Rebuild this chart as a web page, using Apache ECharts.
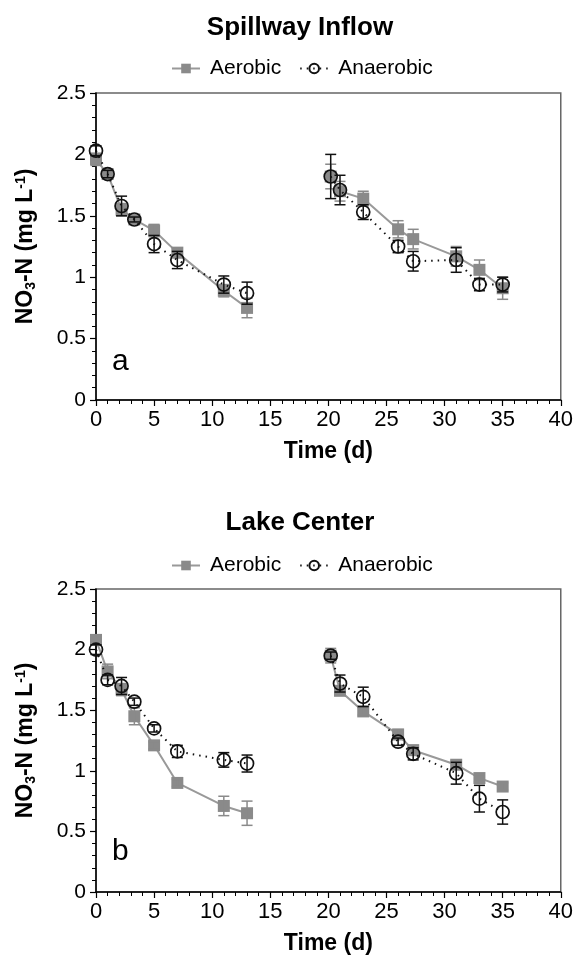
<!DOCTYPE html>
<html><head><meta charset="utf-8">
<script src="https://cdn.jsdelivr.net/npm/echarts@6/dist/echarts.min.js"></script>
<style>html,body{margin:0;padding:0;background:#fff}#c{width:576px;height:957px}</style>
</head><body><div id="c"></div>
<script>
// ---- data ----
var titles = ['Spillway Inflow', 'Lake Center'];
var panelLetters = ['a', 'b'];
var timesA = [0, 1, 2.2, 3.3, 5, 7, 11, 13];
var timesB = [20.2, 21, 23, 26, 27.3, 31, 33, 35];
var xTicks = [0, 5, 10, 15, 20, 25, 30, 35, 40];
var yTicks = [0, 0.5, 1, 1.5, 2, 2.5];

// panel a (Spillway Inflow)
var aAerobic1 = [1.96, 1.84, 1.55, 1.47, 1.38, 1.20, 0.89, 0.75];
var aAerobic2 = [1.82, 1.70, 1.64, 1.39, 1.31, 1.17, 1.06, 0.91];
var aAerobicErr1 = [0.05, 0.03, 0.05, 0.03, 0.05, 0.04, 0.05, 0.08];
var aAerobicErr2 = [0.10, 0.08, 0.06, 0.07, 0.08, 0.08, 0.08, 0.09];
var aAnaerobic1 = [2.03, 1.84, 1.58, 1.47, 1.27, 1.14, 0.94, 0.87];
var aAnaerobic2 = [1.82, 1.71, 1.53, 1.25, 1.13, 1.14, 0.94, 0.94];
var aAnaerobicErr1 = [0.04, 0.03, 0.08, 0.02, 0.07, 0.07, 0.07, 0.09];
var aAnaerobicErr2 = [0.18, 0.12, 0.06, 0.05, 0.08, 0.10, 0.05, 0.06];

// panel b (Lake Center)
var bAerobic1 = [2.08, 1.82, 1.67, 1.45, 1.21, 0.90, 0.71, 0.65];
var bAerobic2 = [1.95, 1.66, 1.49, 1.30, 1.17, 1.05, 0.94, 0.87];
var bAerobicErr1 = [0.04, 0.06, 0.05, 0.07, 0.03, 0.03, 0.08, 0.10];
var bAerobicErr2 = [0.06, 0.03, 0.03, 0.04, 0.04, 0.03, 0.03, 0.03];
var bAnaerobic1 = [2.00, 1.75, 1.70, 1.57, 1.35, 1.16, 1.09, 1.06];
var bAnaerobic2 = [1.95, 1.72, 1.61, 1.24, 1.14, 0.98, 0.77, 0.66];
var bAnaerobicErr1 = [0.04, 0.04, 0.07, 0.03, 0.03, 0.05, 0.06, 0.07];
var bAnaerobicErr2 = [0.03, 0.07, 0.08, 0.03, 0.05, 0.09, 0.11, 0.10];

// ---- build ----
var FONT = 'Liberation Sans, Arial, sans-serif';
var GRAY = '#8a8a8a';
var LINEGRAY = '#999999';

function pts(t, v) { return t.map(function (x, i) { return [x, v[i]]; }); }
function errPts(t, v, e) { return t.map(function (x, i) { return [x, v[i] - e[i], v[i] + e[i]]; }); }

function errSeries(idx, data, color) {
  return {
    type: 'custom', xAxisIndex: idx, yAxisIndex: idx, silent: true, z: 3,
    renderItem: function (params, api) {
      var x = api.value(0);
      var lo = api.coord([x, api.value(1)]);
      var hi = api.coord([x, api.value(2)]);
      var w = 5.5;
      var st = { stroke: color, lineWidth: 1.5 };
      return { type: 'group', children: [
        { type: 'line', shape: { x1: lo[0], y1: lo[1], x2: hi[0], y2: hi[1] }, style: st },
        { type: 'line', shape: { x1: lo[0] - w, y1: lo[1], x2: lo[0] + w, y2: lo[1] }, style: st },
        { type: 'line', shape: { x1: hi[0] - w, y1: hi[1], x2: hi[0] + w, y2: hi[1] }, style: st }
      ]};
    },
    data: data
  };
}
function aerSeries(idx, data) {
  return {
    name: 'Aerobic', type: 'line', xAxisIndex: idx, yAxisIndex: idx, z: 2,
    symbol: 'rect', symbolSize: 12, showSymbol: true,
    lineStyle: { color: LINEGRAY, width: 2 },
    itemStyle: { color: GRAY, borderWidth: 0 },
    data: data, animation: false
  };
}
function anaSeries(idx, data) {
  return {
    name: 'Anaerobic', type: 'line', xAxisIndex: idx, yAxisIndex: idx, z: 5,
    symbol: 'circle', symbolSize: 13, showSymbol: true,
    lineStyle: { color: '#111', width: 2, type: [1.5, 5] },
    itemStyle: { color: 'rgba(255,255,255,0)', borderColor: '#111', borderWidth: 1.7 },
    data: data, animation: false
  };
}

var grids = [
  { left: 96, right: 13, top: 93, height: 307, show: true, borderColor: '#666', borderWidth: 1.5 },
  { left: 96, right: 13, top: 589, height: 303, show: true, borderColor: '#666', borderWidth: 1.5 }
];

function xAxis(idx) {
  return {
    type: 'value', gridIndex: idx, min: xTicks[0], max: xTicks[xTicks.length - 1], interval: 5,
    name: 'Time (d)', nameLocation: 'middle', nameGap: 40,
    nameTextStyle: { fontFamily: FONT, fontSize: 23, fontWeight: 'bold', color: '#000' },
    axisLine: { show: true, onZero: false, lineStyle: { color: '#000', width: 1.5 } },
    axisTick: { show: true, inside: false, length: 6, lineStyle: { color: '#000', width: 1.2 } },
    minorTick: { show: true, splitNumber: 5, length: 4, lineStyle: { color: '#000', width: 1 } },
    axisLabel: { fontFamily: FONT, fontSize: 22, color: '#000', margin: 9 },
    splitLine: { show: false }
  };
}
function yAxis(idx) {
  return {
    type: 'value', gridIndex: idx, min: yTicks[0], max: yTicks[yTicks.length - 1], interval: 0.5,
    name: '{b|NO}{s|3}{b|-N (mg L}{p|-1}{b|)}', nameLocation: 'middle', nameGap: 58,
    nameTextStyle: { fontFamily: FONT, fontSize: 23, fontWeight: 'bold', color: '#000',
      rich: {
        b: { fontFamily: FONT, fontSize: 23, fontWeight: 'bold', color: '#000' },
        s: { fontFamily: FONT, fontSize: 14, fontWeight: 'bold', color: '#000', verticalAlign: 'bottom', padding: [10, 0, 0, 0] },
        p: { fontFamily: FONT, fontSize: 14, fontWeight: 'bold', color: '#000', verticalAlign: 'top', padding: [0, 0, 10, 0] }
      } },
    axisLine: { show: true, onZero: false, lineStyle: { color: '#000', width: 1.5 } },
    axisTick: { show: true, inside: false, length: 6, lineStyle: { color: '#000', width: 1.2 } },
    minorTick: { show: true, splitNumber: 5, length: 4, lineStyle: { color: '#000', width: 1 } },
    axisLabel: { fontFamily: FONT, fontSize: 21, color: '#000', margin: 10 },
    splitLine: { show: false }
  };
}

var series = [];
[[timesA, timesB, aAerobic1, aAerobic2, aAerobicErr1, aAerobicErr2, aAnaerobic1, aAnaerobic2, aAnaerobicErr1, aAnaerobicErr2],
 [timesA, timesB, bAerobic1, bAerobic2, bAerobicErr1, bAerobicErr2, bAnaerobic1, bAnaerobic2, bAnaerobicErr1, bAnaerobicErr2]
].forEach(function (p, idx) {
  series.push(errSeries(idx, errPts(p[0], p[2], p[4]), GRAY));
  series.push(errSeries(idx, errPts(p[1], p[3], p[5]), GRAY));
  series.push(aerSeries(idx, pts(p[0], p[2])));
  series.push(aerSeries(idx, pts(p[1], p[3])));
  var e1 = errSeries(idx, errPts(p[0], p[6], p[8]), '#111'); e1.z = 4;
  var e2 = errSeries(idx, errPts(p[1], p[7], p[9]), '#111'); e2.z = 4;
  series.push(e1); series.push(e2);
  series.push(anaSeries(idx, pts(p[0], p[6])));
  series.push(anaSeries(idx, pts(p[1], p[7])));
});

var legendBase = {
  data: ['Aerobic', 'Anaerobic'], left: 166, orient: 'horizontal',
  itemWidth: 28, itemHeight: 12, itemGap: 18, selectedMode: false,
  textStyle: { fontFamily: FONT, fontSize: 21, color: '#000', padding: [0, 0, 0, 5] }
};
var legends = [
  Object.assign({}, legendBase, { top: 53 }),
  Object.assign({}, legendBase, { top: 550 })
];

var graphics = [
  { type: 'text', x: 300, y: 28, style: { text: titles[0], fontFamily: FONT, fontSize: 26, fontWeight: 'bold', fill: '#000', textAlign: 'center', textVerticalAlign: 'middle' } },
  { type: 'text', x: 300, y: 523, style: { text: titles[1], fontFamily: FONT, fontSize: 26, fontWeight: 'bold', fill: '#000', textAlign: 'center', textVerticalAlign: 'middle' } },
  { type: 'text', x: 112, y: 362, style: { text: panelLetters[0], fontFamily: FONT, fontSize: 30, fill: '#000', textAlign: 'left', textVerticalAlign: 'middle' } },
  { type: 'text', x: 112, y: 852, style: { text: panelLetters[1], fontFamily: FONT, fontSize: 30, fill: '#000', textAlign: 'left', textVerticalAlign: 'middle' } }
];

var chart = echarts.init(document.getElementById('c'), null, { renderer: 'canvas' });
chart.setOption({
  animation: false,
  backgroundColor: '#fff',
  grid: grids,
  xAxis: [xAxis(0), xAxis(1)],
  yAxis: [yAxis(0), yAxis(1)],
  legend: legends,
  graphic: graphics,
  series: series
});
</script>
</body></html>
